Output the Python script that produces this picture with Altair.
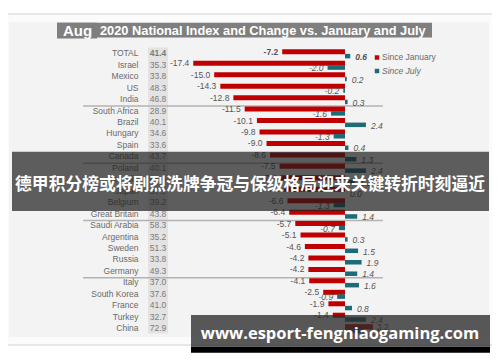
import altair as alt
import pandas as pd

# ---------------- data ----------------
countries = ["TOTAL", "Israel", "Mexico", "US", "India", "South Africa", "Brazil", "Hungary",
             "Spain", "Canada", "Poland", "Australia", "Japan", "Belgium", "Great Britain",
             "Saudi Arabia", "Argentina", "Sweden", "Russia", "Germany", "Italy",
             "South Korea", "France", "Turkey", "China"]
index_vals = [41.4, 35.3, 33.8, 48.3, 46.8, 28.9, 40.1, 34.6, 33.6, 43.7, 40.1, 45.6, 37.9,
              39.2, 43.8, 58.3, 35.2, 51.3, 33.8, 49.3, 37.0, 37.6, 41.0, 32.7, 72.9]
since_jan = [-7.2, -17.4, -15.0, -14.3, -12.8, -11.5, -10.1, -9.8, -9.0, -8.6, -7.5, -7.4, -7.0,
             -6.6, -6.4, -5.7, -5.1, -4.6, -4.2, -4.2, -4.1, -2.5, -1.9, -1.4, 3.2]
since_jul = [0.6, -2.0, 0.2, -0.2, 0.3, -1.6, 2.4, -1.3, 0.4, 1.3, 2.4, 1.1, 0.0,
             -1.3, 1.4, -0.7, 0.3, 1.5, 1.9, 1.4, 1.6, -0.9, 0.8, 2.4, 2.1]
group_starts = ["South Africa", "Poland", "Saudi Arabia", "Italy"]

title_small = "Aug"
title_main = "2020 National Index and Change vs. January and July"
legend_labels = ["Since January", "Since July"]
banner_text = "德甲积分榜或将剧烈洗牌争冠与保级格局迎来关键转折时刻逼近"
watermark_text = "www.esport-fengniaogaming.com"

df = pd.DataFrame({"country": countries, "index": index_vals,
                   "jan": since_jan, "jul": since_jul})
sep_df = pd.DataFrame({"country": group_starts})
one = pd.DataFrame({"k": [0]})

RED = "#c00000"
TEAL = "#1d6b77"
FONT = "Liberation Sans"
LBL = "#6a6a6a"


def px(v):
    return v - 8


def py(v):
    return v - 8


xs = alt.Scale(domain=[-20, 5], range=[px(345) - 20 * 8.72, px(345) + 5 * 8.72], nice=False, zero=False)
Y = alt.Y("country:N", sort=countries,
          scale=alt.Scale(domain=countries, range=[py(47.6), py(333.9)], paddingInner=0, paddingOuter=0),
          axis=None)


def rect(x1, x2, y1, y2, **kw):
    return alt.Chart(one).mark_rect(**kw).encode(
        x=alt.value(px(x1)), x2=alt.value(px(x2)), y=alt.value(py(y1)), y2=alt.value(py(y2)))


def label(txt, x, y, **kw):
    return alt.Chart(one).mark_text(text=txt, **kw).encode(x=alt.value(px(x)), y=alt.value(py(y)))


def two_weight(chart_fn, filt):
    """Normal-weight layer for country rows, bold layer for the TOTAL row."""
    a = chart_fn("normal", f"({filt}) && datum.country != 'TOTAL'")
    b = chart_fn("bold", f"({filt}) && datum.country == 'TOTAL'")
    return [a, b]


frame = rect(1.5, 497, 14, 345, fill="#fbfbfb", stroke="#d2d2d2", strokeWidth=1)
panel = rect(9, 489, 22, 337, fill="#f3f3f3")
title_bg = rect(57, 432, 22.7, 37.5, fill="#7f7f7f")
title_bg2 = rect(57, 97, 22.7, 38.5, fill="#7f7f7f")
t1 = label(title_small, 63, 30.5, align="left", baseline="middle", font=FONT, fontSize=15,
           fontWeight="bold", color="white")
t2 = label(title_main, 100, 30.5, align="left", baseline="middle", font=FONT, fontSize=12.8,
           fontWeight="bold", color="white")

idx_bg = rect(148, 168, 47.5, 333.5, fill="#e3e3e3")

base = alt.Chart(df).transform_calculate(
    jan_txt="replace(format(datum.jan, '.1f'), '\u2212', '-')",
    jul_txt="replace(format(datum.jul, '.1f'), '\u2212', '-')",
)

seps = alt.Chart(sep_df).mark_rule(color="#b3b3b3", strokeWidth=1.5, yOffset=-4.5).encode(
    y=Y, x=alt.value(px(83)), x2=alt.value(px(383)))

names = base.mark_text(align="right", baseline="middle", font=FONT, fontSize=8.5, color=LBL).encode(
    y=Y, x=alt.value(px(138.5)), text="country:N")

layers_idx = two_weight(lambda w, f: base.transform_filter(f).mark_text(
    align="center", baseline="middle", font=FONT, fontSize=8.5, fontWeight=w, color="#7a7a7a").encode(
    y=Y, x=alt.value(px(158)), text=alt.Text("index:Q", format=".1f")), "true")

jan_bar = base.mark_bar(size=5, yOffset=-1.5, color=RED).encode(
    y=Y, x=alt.X("jan:Q", scale=xs, axis=None), x2=alt.datum(0))
jul_bar = base.mark_bar(size=4.5, yOffset=2.8, color=TEAL).encode(
    y=Y, x=alt.X("jul:Q", scale=xs, axis=None), x2=alt.datum(0))


def val_layers(field, cond, align, dx, yoff, italic):
    def fn(w, f):
        kw = dict(align=align, baseline="middle", dx=dx, yOffset=yoff, font=FONT, fontSize=8.5,
                  fontWeight=w, color="#555555")
        if italic:
            kw["fontStyle"] = "italic"
        return base.transform_filter(f).mark_text(**kw).encode(
            y=Y, x=alt.X(f"{field}:Q", scale=xs, axis=None),
            text=alt.Text(f"{field}_txt:N"))
    return two_weight(fn, cond)


val = []
val += val_layers("jan", "datum.jan < 0", "right", -4, -1.5, False)
val += val_layers("jan", "datum.jan >= 0", "left", 4, -1.5, False)
val += val_layers("jul", "datum.jul < 0", "right", -4, 3.5, True)
val += val_layers("jul", "datum.jul >= 0", "left", 5, 3.5, True)

leg_sq1 = alt.Chart(one).mark_square(size=20, color=RED, opacity=1).encode(
    x=alt.value(px(377)), y=alt.value(py(57.5)))
leg_sq2 = alt.Chart(one).mark_square(size=20, color=TEAL, opacity=1).encode(
    x=alt.value(px(377)), y=alt.value(py(71)))
leg_t1 = label(legend_labels[0], 382, 57, align="left", baseline="middle", font=FONT, fontSize=8.5, color=LBL)
leg_t2 = label(legend_labels[1], 382, 71, align="left", baseline="middle", font=FONT, fontSize=8.5,
               fontStyle="italic", color=LBL)

banner = rect(12, 489, 151.7, 211, fill="#1c1c1c", opacity=0.7)
banner_t = label(banner_text, 250, 185, align="center", baseline="middle", font="Noto Sans CJK SC",
                 fontSize=16.8, fontWeight="bold", color="white")

wm = rect(191, 490, 315, 346.7, fill="#2a2a2a", opacity=0.78)
wm_black = rect(191, 490, 346.7, 352.7, fill="black")
wm_t = label(watermark_text, 340, 333.5, align="center", baseline="middle", font="Open Sans",
             fontSize=16.5, fontWeight="bold", color="white")

chart = alt.layer(
    frame, panel, title_bg, title_bg2, t1, t2, idx_bg, seps, names, *layers_idx,
    jan_bar, jul_bar, *val,
    leg_sq1, leg_sq2, leg_t1, leg_t2,
    banner, banner_t, wm, wm_black, wm_t
).resolve_scale(x="shared", y="shared").properties(
    width=484, height=346, padding=0, autosize=alt.AutoSizeParams(type="none"),
    background="white"
).configure_view(stroke=None)

chart.save("out.html", embed_options={"renderer": "svg", "actions": False})
